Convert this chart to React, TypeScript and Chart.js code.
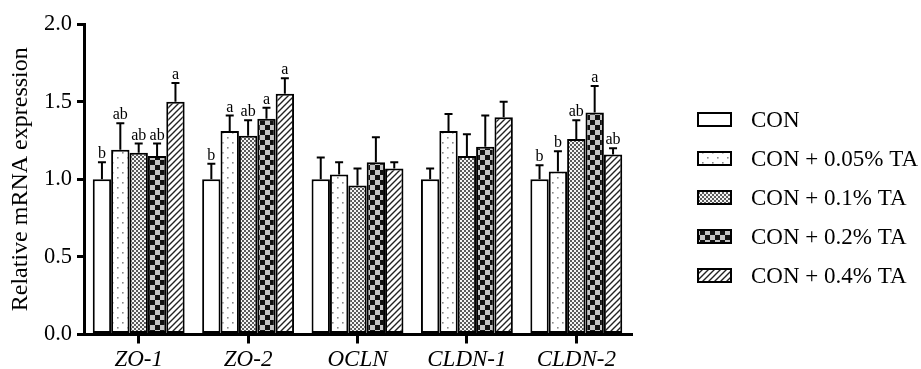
import React, { useEffect, useRef } from "react";
import { Chart, registerables } from "chart.js";

Chart.register(...registerables);

const categories = ["ZO-1", "ZO-2", "OCLN", "CLDN-1", "CLDN-2"];
const seriesNames = ["CON", "CON + 0.05% TA", "CON + 0.1% TA", "CON + 0.2% TA", "CON + 0.4% TA"];

const conValues = [1.0, 1.0, 1.0, 1.0, 1.0];
const ta005Values = [1.19, 1.31, 1.03, 1.31, 1.05];
const ta01Values = [1.17, 1.28, 0.96, 1.15, 1.26];
const ta02Values = [1.15, 1.39, 1.11, 1.21, 1.43];
const ta04Values = [1.5, 1.55, 1.07, 1.4, 1.16];

const conErrors = [0.11, 0.1, 0.14, 0.07, 0.09];
const ta005Errors = [0.17, 0.1, 0.08, 0.11, 0.13];
const ta01Errors = [0.06, 0.1, 0.11, 0.14, 0.12];
const ta02Errors = [0.08, 0.07, 0.16, 0.2, 0.17];
const ta04Errors = [0.12, 0.1, 0.04, 0.1, 0.04];

const conLetters = ["b", "b", "", "", "b"];
const ta005Letters = ["ab", "a", "", "", "b"];
const ta01Letters = ["ab", "ab", "", "", "ab"];
const ta02Letters = ["ab", "a", "", "", "a"];
const ta04Letters = ["a", "a", "", "", "ab"];

const yTicks = [0, 0.5, 1.0, 1.5, 2.0];

const FONT = '"Liberation Serif", "Times New Roman", serif';

function makePattern(kind: string): CanvasPattern | string {
  const c = document.createElement("canvas");
  const ctx = c.getContext("2d")!;
  if (kind === "plain") return "#ffffff";
  if (kind === "dots") {
    c.width = 10; c.height = 10;
    ctx.fillStyle = "#fff"; ctx.fillRect(0, 0, 10, 10);
    ctx.fillStyle = "#8a8a8a";
    ctx.fillRect(2, 2, 1.6, 1.6);
    ctx.fillRect(7, 7, 1.6, 1.6);
  } else if (kind === "fine") {
    c.width = 4; c.height = 4;
    ctx.fillStyle = "#5a5a5a"; ctx.fillRect(0, 0, 4, 4);
    ctx.fillStyle = "#f4f4f4";
    ctx.fillRect(0, 0, 2, 2);
    ctx.fillRect(2, 2, 2, 2);
  } else if (kind === "checker") {
    c.width = 10; c.height = 10;
    ctx.fillStyle = "#c4c4c4"; ctx.fillRect(0, 0, 10, 10);
    ctx.fillStyle = "#111";
    ctx.fillRect(0, 0, 5, 5);
    ctx.fillRect(5, 5, 5, 5);
  } else if (kind === "hatch") {
    c.width = 6; c.height = 6;
    ctx.fillStyle = "#fff"; ctx.fillRect(0, 0, 6, 6);
    ctx.strokeStyle = "#222"; ctx.lineWidth = 1.4;
    ctx.beginPath();
    ctx.moveTo(-1, 7); ctx.lineTo(7, -1);
    ctx.moveTo(-4, 4); ctx.lineTo(4, -4);
    ctx.moveTo(2, 10); ctx.lineTo(10, 2);
    ctx.stroke();
  }
  return ctx.createPattern(c, "repeat")!;
}

const patternKinds = ["plain", "dots", "fine", "checker", "hatch"];

export default function App() {
  const ref = useRef<HTMLCanvasElement>(null);

  useEffect(() => {
    if (!ref.current) return;
    const values = [conValues, ta005Values, ta01Values, ta02Values, ta04Values];
    const errors = [conErrors, ta005Errors, ta01Errors, ta02Errors, ta04Errors];
    const letters = [conLetters, ta005Letters, ta01Letters, ta02Letters, ta04Letters];
    const fills = patternKinds.map(makePattern);

    const errorPlugin = {
      id: "errorBars",
      afterDatasetsDraw(chart: any) {
        const ctx = chart.ctx;
        const y = chart.scales.y;
        ctx.save();
        chart.data.datasets.forEach((ds: any, di: number) => {
          const meta = chart.getDatasetMeta(di);
          meta.data.forEach((bar: any, i: number) => {
            const v = values[di][i];
            const top = y.getPixelForValue(v + errors[di][i]);
            const base = y.getPixelForValue(v);
            ctx.strokeStyle = "#000";
            ctx.lineWidth = 2;
            ctx.beginPath();
            ctx.moveTo(bar.x, base);
            ctx.lineTo(bar.x, top);
            ctx.moveTo(bar.x - 4, top);
            ctx.lineTo(bar.x + 4, top);
            ctx.stroke();
            const t = letters[di][i];
            if (t) {
              ctx.fillStyle = "#000";
              ctx.font = `16px ${FONT}`;
              ctx.textAlign = "center";
              ctx.textBaseline = "alphabetic";
              ctx.fillText(t, bar.x, top - 4);
            }
          });
        });
        ctx.restore();
      },
    };

    const legendPlugin = {
      id: "customLegend",
      afterDraw(chart: any) {
        const ctx = chart.ctx;
        ctx.save();
        seriesNames.forEach((name, i) => {
          const cy = 119.5 + 39 * i;
          const x0 = 698;
          ctx.fillStyle = fills[i];
          ctx.fillRect(x0, cy - 6.5, 33, 13);
          ctx.strokeStyle = "#000";
          ctx.lineWidth = 2;
          ctx.strokeRect(x0, cy - 6.5, 33, 13);
          ctx.fillStyle = "#000";
          ctx.font = `23px ${FONT}`;
          ctx.textAlign = "left";
          ctx.textBaseline = "middle";
          ctx.fillText(name, 751, cy + 1);
        });
        ctx.restore();
      },
    };

    const chart = new Chart(ref.current, {
      type: "bar",
      data: {
        labels: categories,
        datasets: seriesNames.map((name, i) => ({
          label: name,
          data: values[i],
          backgroundColor: fills[i] as any,
          borderColor: "#000",
          borderWidth: 2,
          borderSkipped: false,
          categoryPercentage: 0.84,
          barPercentage: 1.0,
        })),
      },
      options: {
        animation: false,
        responsive: false,
        devicePixelRatio: 1,
        layout: { padding: { top: 24, right: 290, left: 0, bottom: 0 } },
        plugins: { legend: { display: false }, tooltip: { enabled: false } },
        scales: {
          x: {
            grid: { offset: false, drawOnChartArea: false, tickLength: 9, lineWidth: 3, color: "#000" },
            border: { width: 3, color: "#000" },
            ticks: { font: { family: FONT, size: 23, style: "italic" }, color: "#000", padding: 3 },
            afterFit: (s: any) => { s.height = 34.5; },
          },
          y: {
            min: 0,
            max: 2,
            afterBuildTicks: (s: any) => { s.ticks = yTicks.map((v) => ({ value: v })); },
            ticks: { font: { family: FONT, size: 22.5 }, color: "#000", padding: 5, callback: (v: any) => Number(v).toFixed(1) },
            grid: { drawOnChartArea: false, tickLength: 7, lineWidth: 3, color: "#000" },
            border: { width: 3, color: "#000" },
            title: { display: true, text: "Relative mRNA expression", font: { family: FONT, size: 24 }, color: "#000", padding: { top: 6, bottom: 0 } },
            afterFit: (s: any) => { s.width = 84; },
          },
        },
      },
      plugins: [errorPlugin, legendPlugin],
    });
    return () => chart.destroy();
  }, []);

  return (
    <div style={{ position: "absolute", left: 0, top: 0, width: 921, height: 369, background: "#fff" }}>
      <canvas ref={ref} width={921} height={369} style={{ display: "block" }} />
    </div>
  );
}
